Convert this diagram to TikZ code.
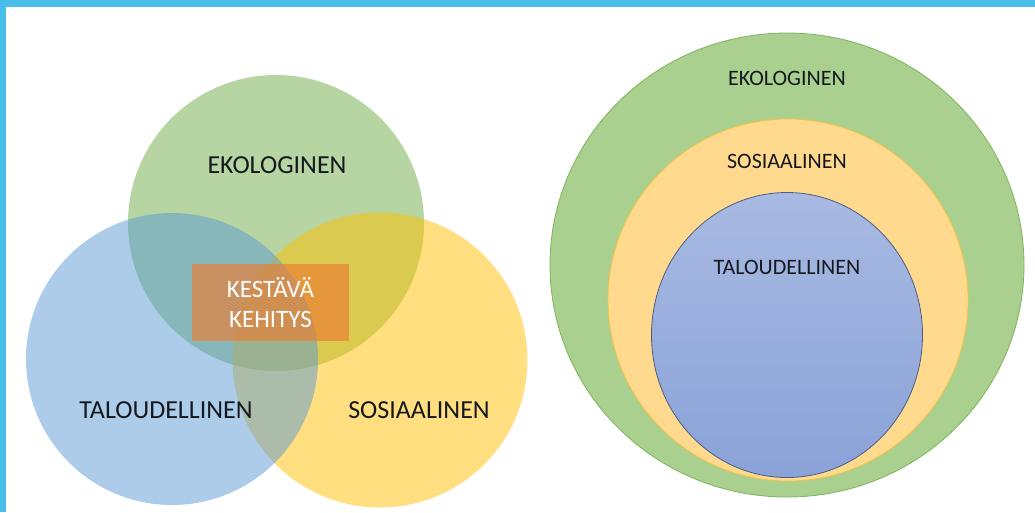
\documentclass[tikz,border=0pt]{standalone}
\usepackage{fontspec}
\setmainfont{Carlito}
\usetikzlibrary{shapes.geometric}
\definecolor{frame}{HTML}{48BFE9}
\definecolor{vgreen}{HTML}{70AD47}
\definecolor{vblue}{HTML}{5B9BD5}
\definecolor{vyellow}{HTML}{FFC000}
\definecolor{vorange}{HTML}{ED7D31}
\definecolor{rgreen}{HTML}{A9D08E}
\definecolor{rgreenb}{HTML}{7FB35E}
\definecolor{ryellow}{HTML}{FFD98E}
\definecolor{ryellowb}{HTML}{F5C242}
\definecolor{rbluetop}{HTML}{A8BAE2}
\definecolor{rbluebot}{HTML}{8AA2D8}
\definecolor{rblueb}{HTML}{4E5C82}
\definecolor{txt}{HTML}{15191F}
\begin{document}
\begin{tikzpicture}[x=1pt,y=-1pt,
  venn/.style={circle, inner sep=0pt, minimum size=#1, fill opacity=0.5},
  biglabel/.style={text=txt, font=\fontsize{26}{30}\selectfont},
  smalllabel/.style={text=txt, font=\fontsize{22}{26}\selectfont},
  ring/.style={ellipse, inner sep=0pt, line width=0.8pt}]
\useasboundingbox (0,0) rectangle (1035,512);
\fill[white] (0,0) rectangle (1035,512);
\fill[frame] (0,0) rectangle (1035,7);
\fill[frame] (0,0) rectangle (6,512);
% Venn diagram
\node[venn=296pt, fill=vgreen] (eco) at (276,223) {};
\node[venn=295pt, fill=vyellow] (sos) at (380,360) {};
\node[venn=292pt, fill=vblue] (tal) at (172,359) {};
\node[fill=vorange, fill opacity=0.65, minimum width=157pt, minimum height=77pt, inner sep=0pt] (kes) at (270.5,302.5) {};
\node[text=white, align=center, font=\fontsize{25}{30}\selectfont] (kest) at (kes.center) {KESTÄVÄ\\KEHITYS};
\node[biglabel] (ecol) at (277,165) {EKOLOGINEN};
\node[biglabel] (tall) at (166,410) {TALOUDELLINEN};
\node[biglabel] (sosl) at (419,410) {SOSIAALINEN};
% Nested circles
\node[ring, fill=rgreen, draw=rgreenb, minimum width=474pt, minimum height=464pt] (eco2) at (787,265) {};
\node[ring, fill=ryellow, draw=ryellowb, minimum width=360pt, minimum height=362pt] (sos2) at (788,300) {};
\node[ring, top color=rbluetop, bottom color=rbluebot, draw=rblueb, minimum width=271pt, minimum height=285pt] (tal2) at (787,335) {};
\node[smalllabel] (ecol2) at (787,78) {EKOLOGINEN};
\node[smalllabel] (sosl2) at (787,161) {SOSIAALINEN};
\node[smalllabel] (tall2) at (787,267) {TALOUDELLINEN};
\end{tikzpicture}
\end{document}
